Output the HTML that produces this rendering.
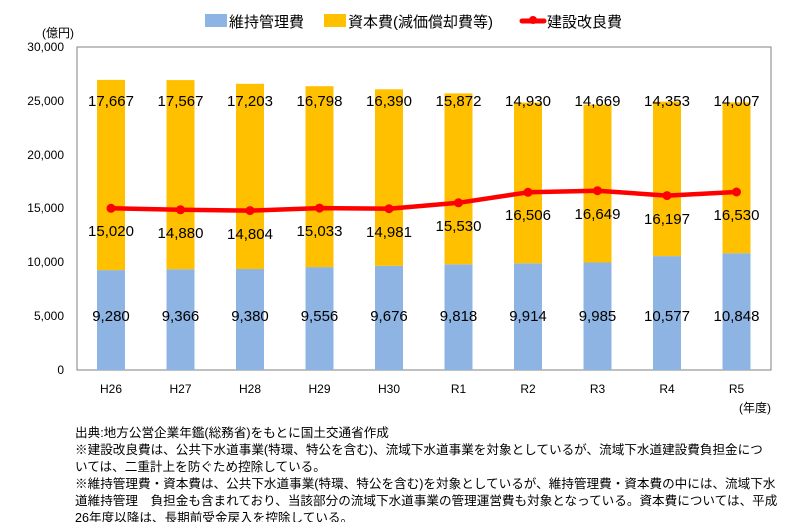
<!DOCTYPE html>
<html><head><meta charset="utf-8"><style>
body{margin:0;background:#fff;}
svg{display:block;font-family:"Liberation Sans","Noto Sans CJK JP",sans-serif;}
.n{font-size:15px;fill:#000;text-anchor:middle}
.t{font-size:12px;fill:#000}
.c{font-size:12px;fill:#000;text-anchor:middle}
.note{font-size:12.6px;fill:#000}
</style></head><body>
<svg width="785" height="522" viewBox="0 0 785 522">
<rect x="205" y="14" width="22" height="13" fill="#8db4e2"/>
<text x="229" y="27" font-size="15">維持管理費</text>
<rect x="324" y="14" width="22" height="13" fill="#ffc000"/>
<text x="348" y="27" font-size="15">資本費(減価償却費等)</text>
<line x1="522" y1="21" x2="544" y2="21" stroke="#f00" stroke-width="5" stroke-linecap="round"/>
<circle cx="533" cy="20" r="4" fill="#f00"/>
<text x="547" y="27" font-size="15">建設改良費</text>
<text x="42" y="37" class="t">(億円)</text>
<g class="t" text-anchor="end">
<text x="64" y="51">30,000</text><text x="64" y="105">25,000</text><text x="64" y="159">20,000</text>
<text x="64" y="212">15,000</text><text x="64" y="266">10,000</text><text x="64" y="320">5,000</text><text x="64" y="374">0</text>
</g>
<rect x="77" y="47" width="694" height="323" fill="none" stroke="#808080" stroke-width="1"/>
<g fill="#8db4e2">
<rect x="97" y="270.1" width="28" height="99.9"/>
<rect x="166.5" y="269.2" width="28" height="100.8"/>
<rect x="236" y="269" width="28" height="101"/>
<rect x="305.5" y="267.1" width="28" height="102.9"/>
<rect x="375" y="265.8" width="28" height="104.2"/>
<rect x="444.5" y="264.3" width="28" height="105.7"/>
<rect x="514" y="263.3" width="28" height="106.7"/>
<rect x="583.5" y="262.5" width="28" height="107.5"/>
<rect x="653" y="256.1" width="28" height="113.9"/>
<rect x="722.5" y="253.2" width="28" height="116.8"/>
</g>
<g fill="#ffc000">
<rect x="97" y="79.9" width="28" height="190.2"/>
<rect x="166.5" y="80.1" width="28" height="189.1"/>
<rect x="236" y="83.8" width="28" height="185.2"/>
<rect x="305.5" y="86.2" width="28" height="180.9"/>
<rect x="375" y="89.3" width="28" height="176.5"/>
<rect x="444.5" y="93.4" width="28" height="170.9"/>
<rect x="514" y="102.6" width="28" height="160.7"/>
<rect x="583.5" y="104.6" width="28" height="157.9"/>
<rect x="653" y="101.6" width="28" height="154.5"/>
<rect x="722.5" y="102.4" width="28" height="150.8"/>
</g>
<polyline points="111,208.3 180.5,209.8 250,210.6 319.5,208.1 389,208.7 458.5,202.8 528,192.3 597.5,190.7 667,195.6 736.5,192" fill="none" stroke="#f00" stroke-width="4.5" stroke-linejoin="round"/>
<g fill="#f00">
<circle cx="111" cy="208.3" r="4.5"/><circle cx="180.5" cy="209.8" r="4.5"/><circle cx="250" cy="210.6" r="4.5"/><circle cx="319.5" cy="208.1" r="4.5"/><circle cx="389" cy="208.7" r="4.5"/><circle cx="458.5" cy="202.8" r="4.5"/><circle cx="528" cy="192.3" r="4.5"/><circle cx="597.5" cy="190.7" r="4.5"/><circle cx="667" cy="195.6" r="4.5"/><circle cx="736.5" cy="192" r="4.5"/>
</g>
<g class="n">
<text x="111" y="106">17,667</text><text x="180.5" y="106">17,567</text><text x="250" y="106">17,203</text><text x="319.5" y="106">16,798</text><text x="389" y="106">16,390</text><text x="458.5" y="106">15,872</text><text x="528" y="106">14,930</text><text x="597.5" y="106">14,669</text><text x="667" y="106">14,353</text><text x="736.5" y="106">14,007</text>
<text x="111" y="236">15,020</text><text x="180.5" y="238">14,880</text><text x="250" y="239">14,804</text><text x="319.5" y="236">15,033</text><text x="389" y="237">14,981</text><text x="458.5" y="231">15,530</text><text x="528" y="220">16,506</text><text x="597.5" y="219">16,649</text><text x="667" y="224">16,197</text><text x="736.5" y="220">16,530</text>
<text x="111" y="321">9,280</text><text x="180.5" y="321">9,366</text><text x="250" y="321">9,380</text><text x="319.5" y="321">9,556</text><text x="389" y="321">9,676</text><text x="458.5" y="321">9,818</text><text x="528" y="321">9,914</text><text x="597.5" y="321">9,985</text><text x="667" y="321">10,577</text><text x="736.5" y="321">10,848</text>
</g>
<g class="c">
<text x="111" y="393">H26</text><text x="180.5" y="393">H27</text><text x="250" y="393">H28</text><text x="319.5" y="393">H29</text><text x="389" y="393">H30</text><text x="458.5" y="393">R1</text><text x="528" y="393">R2</text><text x="597.5" y="393">R3</text><text x="667" y="393">R4</text><text x="736.5" y="393">R5</text>
</g>
<text x="739" y="412" class="t">(年度)</text>
<g class="note">
<text x="75" y="437">出典:地方公営企業年鑑(総務省)をもとに国土交通省作成</text>
<text x="75" y="454">※建設改良費は、公共下水道事業(特環、特公を含む)、流域下水道事業を対象としているが、流域下水道建設費負担金につ</text>
<text x="75" y="471">いては、二重計上を防ぐため控除している。</text>
<text x="75" y="488">※維持管理費・資本費は、公共下水道事業(特環、特公を含む)を対象としているが、維持管理費・資本費の中には、流域下水</text>
<text x="75" y="505">道維持管理　負担金も含まれており、当該部分の流域下水道事業の管理運営費も対象となっている。資本費については、平成</text>
<text x="75" y="522">26年度以降は、長期前受金戻入を控除している。</text>
</g>
</svg>
</body></html>
